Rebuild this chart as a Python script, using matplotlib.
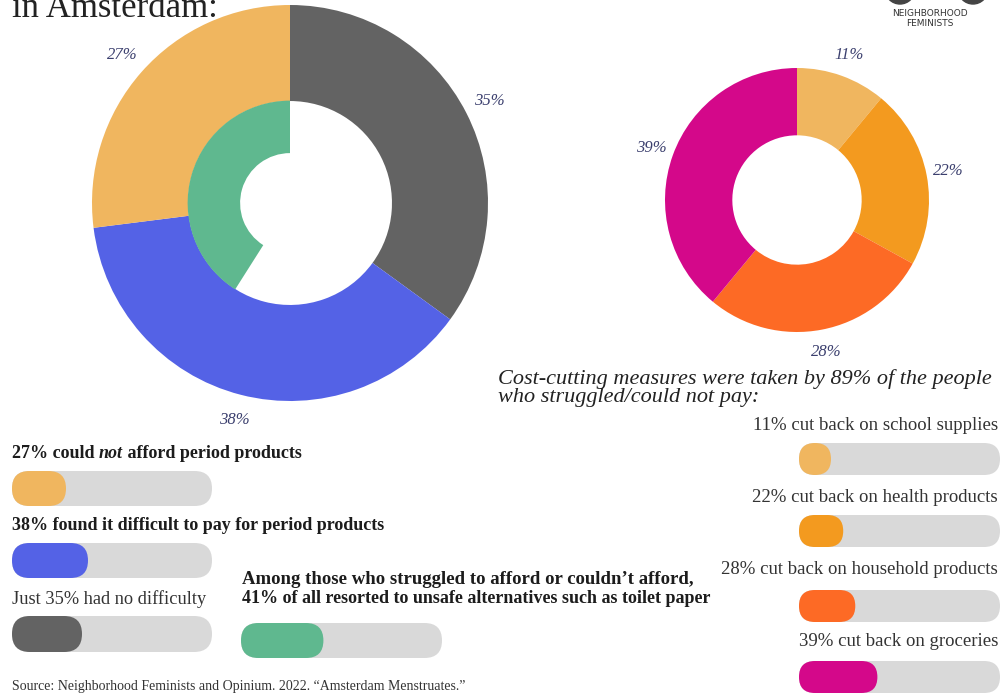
import matplotlib.pyplot as plt
from matplotlib.patches import FancyBboxPatch, Circle

# data
afford_labels = ["could not afford", "found it difficult", "no difficulty"]
afford_values = [27, 38, 35]
afford_colors = ["#f0b65f", "#5462e6", "#636363"]
unsafe_value = 41
unsafe_color = "#5fb88f"

cut_items = ["school supplies", "health products", "household products", "groceries"]
cut_values = [11, 22, 28, 39]
cut_colors = ["#f0b65f", "#f39a1f", "#fd6a25", "#d4088a"]

serif = "Liberation Serif"
label_color = "#3b3f6e"
text_color = "#1c1c1c"
track_color = "#d9d9d9"

W, H = 1002, 696
fig = plt.figure(figsize=(W / 100, H / 100), dpi=100)
ax = fig.add_axes([0, 0, 1, 1])
ax.set_xlim(0, W)
ax.set_ylim(H, 0)
ax.axis("off")


def donut_axes(cx, cy, r):
    a = fig.add_axes([(cx - r) / W, 1 - (cy + r) / H, 2 * r / W, 2 * r / H])
    return a


# left donut: outer ring clockwise from top (no difficulty, difficult, could not)
axl = donut_axes(290, 203, 198)
outer_vals = [afford_values[2], afford_values[1], afford_values[0]]
outer_cols = [afford_colors[2], afford_colors[1], afford_colors[0]]
axl.pie(outer_vals, colors=outer_cols, startangle=90, counterclock=False,
        radius=1, wedgeprops=dict(width=0.485, linewidth=0),
        autopct=lambda p: f"{p:.0f}%", pctdistance=1.13,
        textprops=dict(family=serif, style="italic", size=12, color=label_color))
# inner ring: resorted to unsafe alternatives
axl.pie([unsafe_value, 100 - unsafe_value], colors=[unsafe_color, "none"],
        startangle=90, counterclock=True, radius=0.517,
        wedgeprops=dict(width=0.265, linewidth=0))
axl.set_xlim(-1, 1)
axl.set_ylim(-1, 1)
axl.axis("off")

# right donut: cost-cutting measures
axr = donut_axes(797, 200, 132)
axr.pie(cut_values, colors=cut_colors, startangle=90, counterclock=False,
        radius=1, wedgeprops=dict(width=0.51, linewidth=0),
        autopct=lambda p: f"{p:.0f}%", pctdistance=1.17,
        textprops=dict(family=serif, style="italic", size=12, color=label_color))
axr.set_xlim(-1, 1)
axr.set_ylim(-1, 1)
axr.axis("off")


def pill_bar(x0, y0, length, h, value, color):
    ax.add_patch(FancyBboxPatch((x0, y0), length, h,
                                boxstyle=f"round,pad=0,rounding_size={h / 2}",
                                fc=track_color, ec="none"))
    w = max(length * value / 100, h)
    ax.add_patch(FancyBboxPatch((x0, y0), w, h,
                                boxstyle=f"round,pad=0,rounding_size={h / 2}",
                                fc=color, ec="none"))


# title (cut at the top of the picture)
ax.text(12, 17, "in Amsterdam:", family=serif, size=25, color="#222222",
        va="baseline", ha="left")

# logo
ax.add_patch(Circle((900, -11), 15, color="#444444"))
ax.add_patch(Circle((973, -11), 15, color="#444444"))
ax.text(930, 14, "NEIGHBORHOOD", family="DejaVu Sans", size=6.5,
        ha="center", va="center", color="#333333")
ax.text(930, 23, "FEMINISTS", family="DejaVu Sans", size=6.5,
        ha="center", va="center", color="#333333")

# left side bars
bold = dict(family=serif, weight="bold", size=13, color=text_color)
t1 = ax.text(12, 458, f"{afford_values[0]}% could ", va="baseline", ha="left", **bold)
t2 = ax.annotate("not", xy=(1, 0), xycoords=t1, va="bottom", ha="left",
                 style="italic", **bold)
ax.annotate(" afford period products", xy=(1, 0), xycoords=t2, va="bottom",
            ha="left", **bold)
pill_bar(12, 471, 200, 35, afford_values[0], afford_colors[0])

ax.text(12, 530, f"{afford_values[1]}% found it difficult to pay for period products",
        va="baseline", ha="left", **bold)
pill_bar(12, 543, 200, 35, afford_values[1], afford_colors[1])

ax.text(12, 604, f"Just {afford_values[2]}% had no difficulty", va="baseline", ha="left",
        family=serif, size=13.2, color="#333333")
pill_bar(12, 616, 200, 36, afford_values[2], afford_colors[2])

ax.text(242, 584, "Among those who struggled to afford or couldn\u2019t afford,",
        va="baseline", ha="left", family=serif, weight="bold", size=13.5, color=text_color)
ax.text(242, 603, f"{unsafe_value}% of all resorted to unsafe alternatives such as toilet paper",
        va="baseline", ha="left", **bold)
pill_bar(241, 623, 201, 35, unsafe_value, unsafe_color)

# right side
ax.text(498, 384, "Cost-cutting measures were taken by 89% of the people",
        family=serif, style="italic", size=16, color="#222222", va="baseline", ha="left")
ax.text(498, 402, "who struggled/could not pay:",
        family=serif, style="italic", size=16, color="#222222", va="baseline", ha="left")

label_y = [430, 502, 574, 646]
bar_y = [443, 515, 590, 661]
for item, v, c, ly, by in zip(cut_items, cut_values, cut_colors, label_y, bar_y):
    ax.text(998, ly, f"{v}% cut back on {item}", family=serif, size=13.5,
            color="#333333", va="baseline", ha="right")
    pill_bar(799, by, 201, 32, v, c)

ax.text(12, 690, "Source: Neighborhood Feminists and Opinium. 2022. \u201cAmsterdam Menstruates.\u201d",
        family=serif, size=10, color="#333333", va="baseline", ha="left")

fig.savefig("out.png", dpi=100, facecolor="white")
